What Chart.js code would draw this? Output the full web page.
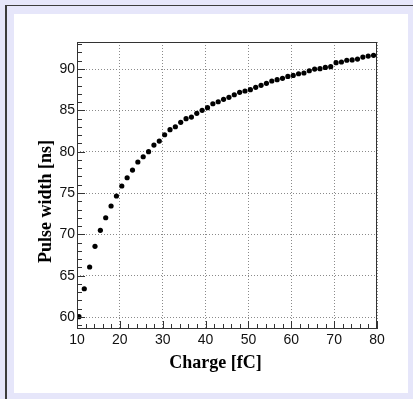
<!DOCTYPE html>
<html>
<head>
<meta charset="utf-8">
<script src="https://cdn.jsdelivr.net/npm/chart.js@4/dist/chart.umd.min.js"></script>
<style>
  html, body { margin: 0; padding: 0; background: #e6e6fa; }
  #c { display: block; }
</style>
</head>
<body>
<canvas id="c" width="413" height="399" style="width:413px;height:399px"></canvas>
<script>
// ---- data ----
const charge = [10.45, 11.7, 12.95, 14.2, 15.45, 16.7, 17.95, 19.2, 20.45, 21.7,
  22.95, 24.2, 25.45, 26.7, 27.95, 29.2, 30.45, 31.7, 32.95, 34.2,
  35.45, 36.7, 37.95, 39.2, 40.45, 41.7, 42.95, 44.2, 45.45, 46.7,
  47.95, 49.2, 50.45, 51.7, 52.95, 54.2, 55.45, 56.7, 57.95, 59.2,
  60.45, 61.7, 62.95, 64.2, 65.45, 66.7, 67.95, 69.2, 70.45, 71.7,
  72.95, 74.2, 75.45, 76.7, 77.95, 79.2];
const pulseWidth = [60.04, 63.42, 66.05, 68.55, 70.49, 72.01, 73.43, 74.64, 75.85, 76.85,
  77.78, 78.75, 79.39, 80.0, 80.8, 81.29, 82.05, 82.66, 83.02, 83.55,
  83.99, 84.19, 84.64, 85.0, 85.32, 85.8, 86.04, 86.33, 86.58, 86.89,
  87.18, 87.34, 87.5, 87.79, 88.03, 88.27, 88.55, 88.71, 88.87, 89.11,
  89.23, 89.43, 89.52, 89.79, 90.0, 90.04, 90.2, 90.28, 90.77, 90.85,
  91.06, 91.1, 91.21, 91.45, 91.57, 91.66];
const xTickLabels = ['10', '20', '30', '40', '50', '60', '70', '80'];
const yTickLabels = ['60', '65', '70', '75', '80', '85', '90'];
const xTitle = 'Charge [fC]';
const yTitle = 'Pulse width [ns]';

const points = charge.map((c, i) => ({ x: c, y: pulseWidth[i] }));

const bgPlugin = {
  id: 'bg',
  beforeDraw(chart) {
    const ctx = chart.ctx;
    ctx.save();
    ctx.fillStyle = '#e6e6fa';
    ctx.fillRect(0, 0, chart.width, chart.height);
    ctx.fillStyle = '#3c3c3c';
    ctx.fillRect(5, 5, chart.width - 5, 1);
    ctx.fillRect(5, 5, 2, chart.height - 5);
    ctx.fillStyle = '#ffffff';
    ctx.fillRect(14, 14, 394, 379);
    ctx.restore();
  }
};

const framePlugin = {
  id: 'frame',
  afterDatasetsDraw(chart) {
    const ctx = chart.ctx;
    const a = chart.chartArea;
    const xs = chart.scales.x, ys = chart.scales.y;
    ctx.save();
    ctx.strokeStyle = '#333333';
    ctx.lineWidth = 1;
    ctx.strokeRect(a.left + 0.5, a.top + 0.5, a.right - a.left - 1, a.bottom - a.top - 1);
    ctx.beginPath();
    for (let v = Math.ceil(ys.min); v <= Math.floor(ys.max); v++) {
      const py = Math.round(ys.getPixelForValue(v)) + 0.5;
      const len = (v % 5 === 0) ? 8 : 5;
      ctx.moveTo(a.left, py);
      ctx.lineTo(a.left + len, py);
    }
    for (let v = xs.min; v <= xs.max; v += 2) {
      const px = Math.round(xs.getPixelForValue(v)) + 0.5;
      const len = (v % 10 === 0) ? 8 : 5;
      ctx.moveTo(px, a.bottom);
      ctx.lineTo(px, a.bottom - len);
    }
    ctx.stroke();
    // axis titles
    ctx.fillStyle = '#000000';
    ctx.font = 'bold 18px "Liberation Serif"';
    ctx.textAlign = 'center';
    ctx.textBaseline = 'middle';
    ctx.fillText(xTitle, 215.5, 363);
    ctx.translate(46, 201.5);
    ctx.rotate(-Math.PI / 2);
    ctx.fillText(yTitle, 0, 0);
    ctx.restore();
  }
};

new Chart(document.getElementById('c'), {
  type: 'scatter',
  data: {
    datasets: [{
      data: points,
      pointRadius: 2.6,
      pointBackgroundColor: '#000000',
      pointBorderWidth: 0,
      showLine: false
    }]
  },
  options: {
    responsive: false,
    devicePixelRatio: 1,
    animation: false,
    layout: { padding: { left: 0, right: 36, top: 42, bottom: 0 } },
    plugins: { legend: { display: false }, tooltip: { enabled: false } },
    scales: {
      x: {
        type: 'linear', min: 10, max: 80,
        afterFit(s) { s.height = 70; },
        afterBuildTicks(s) { s.ticks = xTickLabels.map(t => ({ value: Number(t) })); },
        ticks: {
          callback: (v) => xTickLabels.find(t => Number(t) === v) || '',
          font: { family: '"Liberation Sans"', size: 14 },
          color: '#111111', padding: 3, maxRotation: 0, autoSkip: false
        },
        grid: { color: '#8a8a8a', lineWidth: 1, drawTicks: false },
        border: { display: false, dash: [1, 2] }
      },
      y: {
        type: 'linear', min: 58.55, max: 93.27,
        afterFit(s) { s.width = 77; },
        afterBuildTicks(s) { s.ticks = yTickLabels.map(t => ({ value: Number(t) })); },
        ticks: {
          callback: (v) => yTickLabels.find(t => Number(t) === v) || '',
          font: { family: '"Liberation Sans"', size: 14 },
          color: '#111111', padding: 2, autoSkip: false
        },
        grid: { color: '#8a8a8a', lineWidth: 1, drawTicks: false },
        border: { display: false, dash: [1, 2] }
      }
    }
  },
  plugins: [bgPlugin, framePlugin]
});
</script>
</body>
</html>
